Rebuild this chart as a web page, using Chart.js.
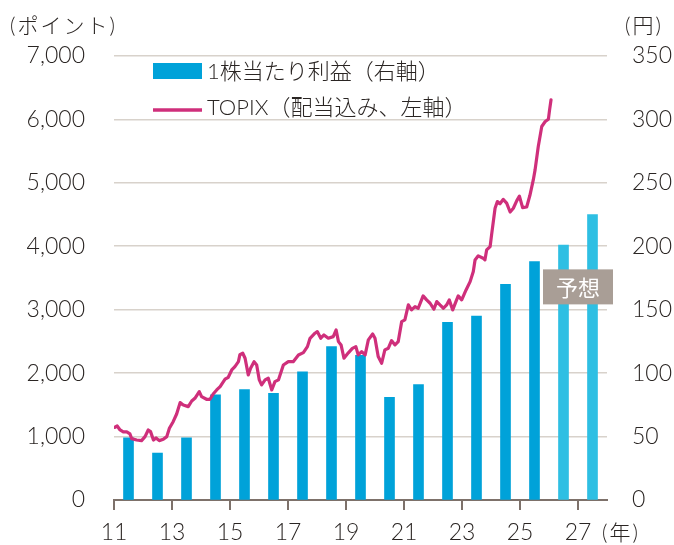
<!DOCTYPE html>
<html>
<head>
<meta charset="utf-8">
<script src="https://cdn.jsdelivr.net/npm/chart.js@4/dist/chart.umd.min.js"></script>
<style>
  html, body { margin: 0; padding: 0; background: #ffffff; }
  #wrap { width: 674px; height: 545px; }
</style>
</head>
<body>
<div id="wrap"><canvas id="c" width="674" height="545"></canvas></div>
<script>
// ---- data ----
const fiscalYears = [2011, 2012, 2013, 2014, 2015, 2016, 2017, 2018, 2019, 2020, 2021, 2022, 2023, 2024, 2025, 2026, 2027];
const epsValues   = [49, 37, 49, 83, 87, 84, 101, 121, 114, 81, 91, 140, 145, 170, 188, 201, 225];
const forecastFromYear = 2026;

const topixTime = [11.03, 11.11, 11.21, 11.32, 11.44, 11.55, 11.61, 11.78, 11.95, 12.07, 12.18, 12.26, 12.36, 12.45, 12.56, 12.70, 12.82, 12.91,
  13.04, 13.16, 13.28, 13.39, 13.56, 13.68, 13.79, 13.94, 14.02, 14.19, 14.31, 14.42, 14.54, 14.66, 14.83, 14.94,
  15.06, 15.17, 15.29, 15.34, 15.44, 15.52, 15.63, 15.71, 15.83, 15.92, 16.01, 16.09, 16.21, 16.32, 16.44, 16.55, 16.67, 16.84,
  17.01, 17.18, 17.36, 17.53, 17.67, 17.76, 17.93, 18.01, 18.13, 18.24, 18.39, 18.56, 18.66, 18.74, 18.83, 18.93,
  19.08, 19.22, 19.34, 19.42, 19.54, 19.66, 19.77, 19.92, 20.00, 20.11, 20.23, 20.34, 20.46, 20.57, 20.69, 20.80, 20.92,
  21.03, 21.15, 21.26, 21.38, 21.49, 21.66, 21.78, 21.90, 22.03, 22.13, 22.24, 22.36, 22.47, 22.56, 22.68, 22.79, 22.87, 22.99,
  23.14, 23.28, 23.39, 23.45, 23.56, 23.73, 23.79, 23.85, 23.97, 24.02, 24.14, 24.22, 24.31, 24.42, 24.54, 24.66, 24.77, 24.89, 24.98,
  25.09, 25.23, 25.34, 25.46, 25.52, 25.63, 25.75, 25.87, 25.98, 26.02, 26.07];
const topixValues = [1147, 1167, 1104, 1073, 1073, 1041, 967, 946, 936, 999, 1104, 1078, 946, 978, 936, 957, 999, 1130,
  1235, 1356, 1535, 1498, 1472, 1561, 1604, 1709, 1630, 1588, 1588, 1672, 1735, 1787, 1904, 1935,
  2050, 2103, 2181, 2290, 2314, 2235, 1972, 2077, 2181, 2129, 1893, 1814, 1893, 1919, 1735, 1866, 1893, 2129,
  2181, 2181, 2287, 2323, 2418, 2550, 2629, 2655, 2550, 2602, 2550, 2576, 2681, 2497, 2445, 2235,
  2320, 2390, 2418, 2287, 2339, 2287, 2524, 2618, 2550, 2261, 2156, 2366, 2393, 2513, 2445, 2497, 2812,
  2839, 3076, 2997, 3049, 3023, 3218, 3155, 3102, 3008, 3128, 3076, 3023, 3076, 3155, 2997, 3128, 3218, 3155,
  3312, 3443, 3601, 3785, 3849, 3812, 3785, 3943, 3996, 4180, 4600, 4705, 4670, 4740, 4680, 4540, 4600, 4720, 4790,
  4610, 4620, 4800, 5050, 5205, 5573, 5888, 5967, 6004, 6151, 6309];

const xTickValues = [11, 13, 15, 17, 19, 21, 23, 25, 27];
const xTickLabels = ['11', '13', '15', '17', '19', '21', '23', '25', '27'];
const leftTickLabels = ['0', '1,000', '2,000', '3,000', '4,000', '5,000', '6,000', '7,000'];
const rightTickLabels = ['0', '50', '100', '150', '200', '250', '300', '350'];

const legendBarLabel = '1株当たり利益（右軸）';
const legendLineLabel = 'TOPIX（配当込み、左軸）';
const leftUnit = '(ポイント)';
const rightUnit = '(円)';
const xUnit = '(年)';
const forecastLabel = '予想';

// ---- styles ----
const BAR_COLOR = '#00a2d9';
const BAR_FORECAST_COLOR = '#2ebfe3';
const LINE_COLOR = '#cf2f7b';
const GRID_COLOR = '#d8d2cb';
const AXIS_COLOR = '#7d716a';
const TEXT_COLOR = '#2a2523';
const NUM_FONT = 'Lato, "Noto Sans CJK JP", sans-serif';
const JP_FONT = 'Lato, "Noto Sans CJK JP", sans-serif';

const barData = fiscalYears.map((fy, i) => ({ x: fy - 2000 + 0.5, y: epsValues[i] }));
const barColors = fiscalYears.map(fy => fy >= forecastFromYear ? BAR_FORECAST_COLOR : BAR_COLOR);
const lineData = topixTime.map((t, i) => ({ x: t, y: topixValues[i] }));

const overlayPlugin = {
  id: 'overlay',
  afterDatasetsDraw(chart) {
    const ctx = chart.ctx;
    const xs = chart.scales.x;
    const yR = chart.scales.yR;
    ctx.save();
    const fIdx = fiscalYears.findIndex(fy => fy >= forecastFromYear);
    const x1 = xs.getPixelForValue(barData[fIdx].x);
    const x2 = xs.getPixelForValue(barData[barData.length - 1].x);
    const cx = (x1 + x2) / 2;
    const cy = yR.getPixelForValue(168);
    ctx.fillStyle = '#a99e96';
    ctx.fillRect(cx - 35, cy - 17.5, 70, 35);
    ctx.fillStyle = '#ffffff';
    ctx.font = '22px "Noto Sans CJK JP", sans-serif';
    ctx.textAlign = 'center';
    ctx.textBaseline = 'middle';
    ctx.fillText(forecastLabel, cx, cy + 1);
    ctx.restore();
  },
  afterDraw(chart) {
    const ctx = chart.ctx;
    const area = chart.chartArea;
    const xs = chart.scales.x;
    ctx.save();
    ctx.fillStyle = TEXT_COLOR;
    ctx.textBaseline = 'middle';
    ctx.textAlign = 'left';
    ctx.font = '300 21px ' + JP_FONT;
    try { ctx.letterSpacing = '2px'; } catch (e) {}
    ctx.fillText(leftUnit, 10, 26);
    ctx.fillText(rightUnit, 625, 26);
    ctx.fillText(xUnit, xs.getPixelForValue(27) + 24, area.bottom + 33);
    try { ctx.letterSpacing = '0px'; } catch (e) {}

    const lx = 153;
    ctx.fillStyle = BAR_COLOR;
    ctx.fillRect(lx, 63, 49, 16);
    ctx.strokeStyle = LINE_COLOR;
    ctx.lineWidth = 3.5;
    ctx.beginPath();
    ctx.moveTo(lx, 110);
    ctx.lineTo(lx + 49, 110);
    ctx.stroke();
    ctx.fillStyle = TEXT_COLOR;
    ctx.font = '300 22px ' + JP_FONT;
    ctx.fillText(legendBarLabel, 207, 72);
    ctx.fillText(legendLineLabel, 207, 108);
    ctx.restore();
  }
};

new Chart(document.getElementById('c'), {
  type: 'bar',
  data: {
    datasets: [
      {
        type: 'line',
        label: legendLineLabel,
        data: lineData,
        xAxisID: 'x',
        yAxisID: 'yL',
        borderColor: LINE_COLOR,
        borderWidth: 3.2,
        pointRadius: 0,
        tension: 0,
        fill: false,
        borderJoinStyle: 'round',
        borderCapStyle: 'round',
        order: 0
      },
      {
        type: 'bar',
        label: legendBarLabel,
        data: barData,
        xAxisID: 'x',
        yAxisID: 'yR',
        backgroundColor: barColors,
        borderWidth: 0,
        barThickness: 10,
        order: 1
      }
    ]
  },
  options: {
    responsive: false,
    animation: false,
    layout: { padding: { top: 56, left: 0, right: 0, bottom: 0 } },
    plugins: { legend: { display: false }, tooltip: { enabled: false } },
    scales: {
      x: {
        type: 'linear',
        position: 'bottom',
        min: 11,
        max: 28,
        offset: false,
        afterBuildTicks: (s) => { s.ticks = xTickValues.map(v => ({ value: v })); },
        afterFit: (s) => { s.height = 45; },
        grid: { display: true, drawOnChartArea: false, drawTicks: true, tickLength: 10, color: AXIS_COLOR, lineWidth: 2, offset: false },
        border: { display: true, color: AXIS_COLOR, width: 2 },
        ticks: {
          autoSkip: false,
          maxRotation: 0,
          padding: 9,
          color: TEXT_COLOR,
          font: { family: NUM_FONT, size: 23, weight: 300 },
          callback: (v, i) => xTickLabels[i]
        }
      },
      yL: {
        type: 'linear',
        position: 'left',
        min: 0,
        max: 7000,
        afterBuildTicks: (s) => { s.ticks = leftTickLabels.map((_, i) => ({ value: i * 1000 })); },
        afterFit: (s) => { s.width = 114; },
        grid: { color: GRID_COLOR, lineWidth: 1.6, drawTicks: false },
        border: { display: false },
        ticks: {
          padding: 29,
          color: TEXT_COLOR,
          font: { family: NUM_FONT, size: 23, weight: 300 },
          callback: (v, i) => leftTickLabels[i]
        }
      },
      yR: {
        type: 'linear',
        position: 'right',
        min: 0,
        max: 350,
        afterBuildTicks: (s) => { s.ticks = rightTickLabels.map((_, i) => ({ value: i * 50 })); },
        afterFit: (s) => { s.width = 67; },
        grid: { drawOnChartArea: false, drawTicks: false },
        border: { display: false },
        ticks: {
          padding: 25,
          color: TEXT_COLOR,
          font: { family: NUM_FONT, size: 23, weight: 300 },
          callback: (v, i) => rightTickLabels[i]
        }
      }
    }
  },
  plugins: [overlayPlugin]
});
</script>
</body>
</html>
